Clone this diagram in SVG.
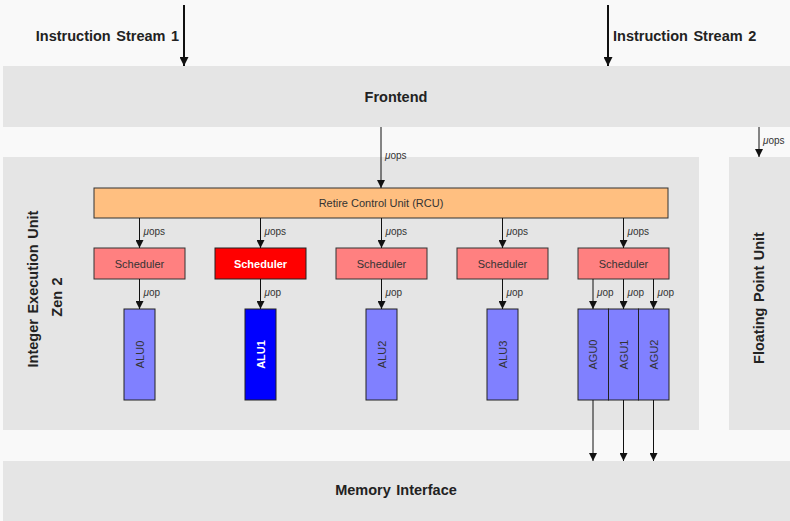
<svg xmlns="http://www.w3.org/2000/svg" width="790" height="521" viewBox="0 0 790 521">
<style>
.bg{fill:#f9f9f9}
.blk{fill:#e5e5e5}
.big{font-family:"Liberation Sans",Arial,sans-serif;font-weight:bold;font-size:14.5px;fill:#222;word-spacing:1.5px}
.sm{font-family:"Liberation Sans",Arial,sans-serif;font-size:11px;fill:#333}
.lbl{font-family:"Liberation Sans",Arial,sans-serif;font-size:10px;fill:#333}
.rcu{fill:#ffbf80;stroke:#333;stroke-width:1}
.sch{fill:#ff8080;stroke:#333;stroke-width:1}
.schH{fill:#ff0000;stroke:#222;stroke-width:1}
.alu{fill:#8080ff;stroke:#222;stroke-width:1}
.aluH{fill:#0000ff;stroke:#222;stroke-width:1}
.wt{fill:#fff;font-weight:bold}
.a{stroke:#111;stroke-width:1;fill:none;marker-end:url(#ah)}
.A{stroke:#111;stroke-width:2;fill:none;marker-end:url(#AH)}
</style>
<defs>
<marker id="ah" viewBox="0 0 10 10" refX="10" refY="5" markerWidth="8" markerHeight="8" markerUnits="userSpaceOnUse" orient="auto"><path d="M0,0 L10,5 L0,10 Z" fill="#111"/></marker>
<marker id="AH" viewBox="0 0 10 10" refX="10" refY="5" markerWidth="10" markerHeight="9" markerUnits="userSpaceOnUse" orient="auto"><path d="M0,0 L10,5 L0,10 Z" fill="#111"/></marker>
</defs>
<rect class="bg" x="0" y="0" width="790" height="521"/>

<g id="frontend"><rect class="blk" x="3" y="66" width="787" height="61"/><text class="big" x="396" y="102" text-anchor="middle">Frontend</text></g>
<g id="ieu"><rect class="blk" x="3" y="157" width="696" height="273"/>
<text class="big" transform="translate(38,289) rotate(-90)" text-anchor="middle">Integer Execution Unit</text>
<text class="big" transform="translate(62,297) rotate(-90)" text-anchor="middle">Zen 2</text></g>
<g id="fpu"><rect class="blk" x="729" y="157" width="61" height="273"/>
<text class="big" transform="translate(764,298) rotate(-90)" text-anchor="middle">Floating Point Unit</text></g>
<g id="mem"><rect class="blk" x="3" y="461" width="787" height="60"/><text class="big" x="396" y="495" text-anchor="middle">Memory Interface</text></g>

<g id="is1"><text class="big" x="179" y="41" text-anchor="end">Instruction Stream 1</text></g>
<g id="is2"><text class="big" x="613" y="41">Instruction Stream 2</text></g>

<g id="rcu"><rect class="rcu" x="94" y="188" width="574" height="30"/><text class="sm" x="381" y="207" text-anchor="middle">Retire Control Unit (RCU)</text></g>

<g id="sched0"><rect class="sch" x="94" y="248" width="91" height="31"/><text class="sm" x="139.5" y="267.5" text-anchor="middle">Scheduler</text></g>
<g id="sched1"><rect class="schH" x="215" y="248" width="91" height="31"/><text class="sm wt" x="260.5" y="267.5" text-anchor="middle">Scheduler</text></g>
<g id="sched2"><rect class="sch" x="336" y="248" width="91" height="31"/><text class="sm" x="381.5" y="267.5" text-anchor="middle">Scheduler</text></g>
<g id="sched3"><rect class="sch" x="457" y="248" width="91" height="31"/><text class="sm" x="502.5" y="267.5" text-anchor="middle">Scheduler</text></g>
<g id="sched4"><rect class="sch" x="578" y="248" width="91" height="31"/><text class="sm" x="623.5" y="267.5" text-anchor="middle">Scheduler</text></g>

<g id="alu0"><rect class="alu" x="124" y="309" width="31" height="91"/><text class="sm" transform="translate(143.5,354.5) rotate(-90)" text-anchor="middle">ALU0</text></g>
<g id="alu1"><rect class="aluH" x="245" y="309" width="31" height="91"/><text class="sm wt" transform="translate(264.5,354.5) rotate(-90)" text-anchor="middle">ALU1</text></g>
<g id="alu2"><rect class="alu" x="366" y="309" width="31" height="91"/><text class="sm" transform="translate(385.5,354.5) rotate(-90)" text-anchor="middle">ALU2</text></g>
<g id="alu3"><rect class="alu" x="487" y="309" width="31" height="91"/><text class="sm" transform="translate(506.5,354.5) rotate(-90)" text-anchor="middle">ALU3</text></g>
<g id="agu0"><rect class="alu" x="578" y="309" width="30.5" height="91"/><text class="sm" transform="translate(597,354.5) rotate(-90)" text-anchor="middle">AGU0</text></g>
<g id="agu1"><rect class="alu" x="608.5" y="309" width="30" height="91"/><text class="sm" transform="translate(627.5,354.5) rotate(-90)" text-anchor="middle">AGU1</text></g>
<g id="agu2"><rect class="alu" x="638.5" y="309" width="30.5" height="91"/><text class="sm" transform="translate(657.5,354.5) rotate(-90)" text-anchor="middle">AGU2</text></g>

<g id="connectors">
<line class="A" x1="184" y1="5" x2="184" y2="66"/>
<line class="A" x1="608" y1="5" x2="608" y2="66"/>
<line class="a" x1="381" y1="127" x2="381" y2="188"/>
<text class="lbl" x="385" y="159"><tspan font-style="italic">μ</tspan>ops</text>
<line class="a" x1="759" y1="127" x2="759" y2="157"/>
<text class="lbl" x="763" y="144"><tspan font-style="italic">μ</tspan>ops</text>

<line class="a" x1="139.5" y1="218" x2="139.5" y2="248"/>
<line class="a" x1="260.5" y1="218" x2="260.5" y2="248"/>
<line class="a" x1="381.5" y1="218" x2="381.5" y2="248"/>
<line class="a" x1="502.5" y1="218" x2="502.5" y2="248"/>
<line class="a" x1="623.5" y1="218" x2="623.5" y2="248"/>
<text class="lbl" x="143.5" y="235"><tspan font-style="italic">μ</tspan>ops</text>
<text class="lbl" x="264.5" y="235"><tspan font-style="italic">μ</tspan>ops</text>
<text class="lbl" x="385.5" y="235"><tspan font-style="italic">μ</tspan>ops</text>
<text class="lbl" x="506.5" y="235"><tspan font-style="italic">μ</tspan>ops</text>
<text class="lbl" x="627.5" y="235"><tspan font-style="italic">μ</tspan>ops</text>

<line class="a" x1="139.5" y1="279" x2="139.5" y2="309"/>
<line class="a" x1="260.5" y1="279" x2="260.5" y2="309"/>
<line class="a" x1="381.5" y1="279" x2="381.5" y2="309"/>
<line class="a" x1="502.5" y1="279" x2="502.5" y2="309"/>
<line class="a" x1="593" y1="279" x2="593" y2="309"/>
<line class="a" x1="623.5" y1="279" x2="623.5" y2="309"/>
<line class="a" x1="653.5" y1="279" x2="653.5" y2="309"/>
<text class="lbl" x="143.5" y="296"><tspan font-style="italic">μ</tspan>op</text>
<text class="lbl" x="264.5" y="296"><tspan font-style="italic">μ</tspan>op</text>
<text class="lbl" x="385.5" y="296"><tspan font-style="italic">μ</tspan>op</text>
<text class="lbl" x="506.5" y="296"><tspan font-style="italic">μ</tspan>op</text>
<text class="lbl" x="597" y="296"><tspan font-style="italic">μ</tspan>op</text>
<text class="lbl" x="627.5" y="296"><tspan font-style="italic">μ</tspan>op</text>
<text class="lbl" x="657.5" y="296"><tspan font-style="italic">μ</tspan>op</text>

<line class="a" x1="593" y1="400" x2="593" y2="461"/>
<line class="a" x1="623.5" y1="400" x2="623.5" y2="461"/>
<line class="a" x1="653.5" y1="400" x2="653.5" y2="461"/>
</g>
</svg>
